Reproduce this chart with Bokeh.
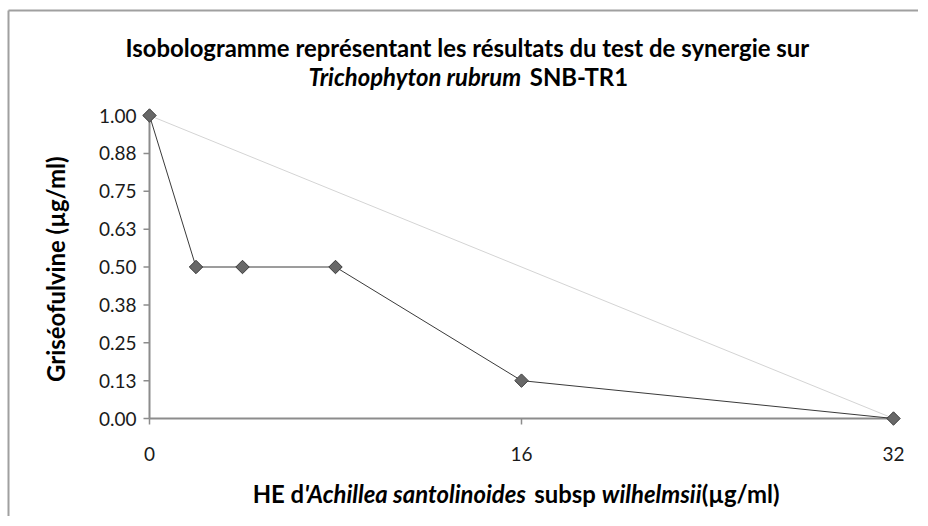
import math
import os
import struct
from bokeh.plotting import figure
from bokeh.models import Range1d
from bokeh.core.properties import value
from bokeh.embed import file_html
from bokeh.resources import INLINE

# ---------------- data ----------------
he_conc = [0, 2, 4, 8, 16, 32]                 # HE d'Achillea (µg/ml)
griseo_conc = [1.0, 0.5, 0.5, 0.5, 0.125, 0.0]  # Griséofulvine (µg/ml)
additive_x = [0, 32]
additive_y = [1.0, 0.0]
y_ticks = [0, 0.125, 0.25, 0.375, 0.5, 0.625, 0.75, 0.875, 1.0]
y_tick_labels = ["0.00", "0.13", "0.25", "0.38", "0.50", "0.63", "0.75", "0.88", "1.00"]
x_ticks = [0, 16, 32]
x_tick_labels = ["0", "16", "32"]
title_line1 = [("Isobologramme représentant les résultats du test de synergie sur", "bold")]
title_line2 = [("Trichophyton rubrum", "bold italic"), (" SNB-TR1", "bold")]
x_title = [("HE d", "bold"), ("'Achillea santolinoides", "bold italic"), (" subsp ", "bold"),
           ("wilhelmsii", "bold italic"), ("(µg/ml)", "bold")]
y_title = [("Griséofulvine (µg/ml)", "bold")]

# ---------------- geometry (pixels of the picture) ----------------
FONT = "Lato"
W, H = 918, 516
DATA_LEFT, DATA_RIGHT = 149, 893   # px of x=0 / x=32
DATA_TOP, DATA_BOTTOM = 115, 418   # px of y=1 / y=0
PXX = (DATA_RIGHT - DATA_LEFT) / (x_ticks[-1] - x_ticks[0])
PXY = (DATA_BOTTOM - DATA_TOP) / (y_ticks[-1] - y_ticks[0])
AXIS_COLOR = "#8c8c8c"
TICK_LEN = 6
TICK_SIZE = 19


def dx(px):
    return (px - DATA_LEFT) / PXX


def dy(py):
    return (DATA_BOTTOM - py) / PXY


# ---------------- font metrics (to chain mixed-style text) ----------------
class FontMetrics:
    def __init__(self, path):
        d = open(path, "rb").read()
        n = struct.unpack(">H", d[4:6])[0]
        t = {}
        for i in range(n):
            tag, _, off, ln = struct.unpack(">4sIII", d[12 + 16 * i:28 + 16 * i])
            t[tag.decode("latin1")] = off
        self.upem = struct.unpack(">H", d[t["head"] + 18:t["head"] + 20])[0]
        nhm = struct.unpack(">H", d[t["hhea"] + 34:t["hhea"] + 36])[0]
        hm = t["hmtx"]
        self.adv = [struct.unpack(">H", d[hm + 4 * i:hm + 4 * i + 2])[0] for i in range(nhm)]
        cm = t["cmap"]
        nsub = struct.unpack(">H", d[cm + 2:cm + 4])[0]
        sub = None
        for i in range(nsub):
            pid, eid, off = struct.unpack(">HHI", d[cm + 4 + 8 * i:cm + 12 + 8 * i])
            fmt = struct.unpack(">H", d[cm + off:cm + off + 2])[0]
            if pid == 3 and eid == 1 and fmt == 4:
                sub = cm + off
        segx2 = struct.unpack(">H", d[sub + 6:sub + 8])[0]
        seg = segx2 // 2
        e_off = sub + 14
        s_off = e_off + segx2 + 2
        dl_off = s_off + segx2
        ro_off = dl_off + segx2
        self.ends = struct.unpack(">%dH" % seg, d[e_off:e_off + segx2])
        self.starts = struct.unpack(">%dH" % seg, d[s_off:s_off + segx2])
        self.deltas = struct.unpack(">%dh" % seg, d[dl_off:dl_off + segx2])
        self.ros = struct.unpack(">%dH" % seg, d[ro_off:ro_off + segx2])
        self.ro_off = ro_off
        self.d = d

    def gid(self, ch):
        c = ord(ch)
        for i, e in enumerate(self.ends):
            if c <= e:
                if c < self.starts[i]:
                    return 0
                if self.ros[i] == 0:
                    return (c + self.deltas[i]) & 0xFFFF
                a = self.ro_off + 2 * i + self.ros[i] + 2 * (c - self.starts[i])
                g = struct.unpack(">H", self.d[a:a + 2])[0]
                return (g + self.deltas[i]) & 0xFFFF if g else 0
        return 0

    def em(self, text):
        tot = 0
        for ch in text:
            g = self.gid(ch)
            tot += self.adv[min(g, len(self.adv) - 1)]
        return tot / self.upem


def find_font(fname):
    for root in ("/usr/share/fonts", "/usr/local/share/fonts", os.path.expanduser("~/.fonts"),
                 os.path.expanduser("~/.local/share/fonts")):
        for dirpath, _, files in os.walk(root):
            for f in files:
                if f.lower() == fname:
                    return os.path.join(dirpath, f)
    return None


METRICS = {}
for style, fname in (("normal", "lato-regular"), ("bold", "lato-bold"), ("bold italic", "lato-bolditalic")):
    try:
        path = find_font(fname + ".ttf") or find_font(fname + ".otf")
        METRICS[style] = FontMetrics(path)
    except Exception:
        METRICS[style] = None

FALLBACK_EM = {"normal": 0.5, "bold": 0.44, "bold italic": 0.43}


def em_width(text, style):
    m = METRICS.get(style)
    if m is not None:
        try:
            return m.em(text)
        except Exception:
            pass
    return FALLBACK_EM[style] * len(text)


def clamp(v, lo, hi):
    return max(lo, min(hi, v))


# bold text size fitted to the reference title width
BOLD_SIZE = clamp(687 / em_width(title_line1[0][0], "bold"), 18, 26)

# the frame covers the whole canvas so no text is clipped
p = figure(
    width=W, height=H,
    min_border_left=0, min_border_right=0, min_border_top=0, min_border_bottom=0,
    x_range=Range1d(dx(0), dx(W)), y_range=Range1d(dy(H), dy(0)),
    x_axis_location=None, y_axis_location=None,
    output_backend="svg", toolbar_location=None, tools="",
)
p.outline_line_color = None
p.grid.visible = False
p.background_fill_color = "white"
p.border_fill_color = "white"

# chart-area border (left and top edges visible)
p.segment(x0=[dx(8), dx(8)], y0=[dy(H), dy(10)], x1=[dx(8), dx(W)], y1=[dy(10), dy(10)],
          line_color="#a0a0a0", line_width=2)

# axis lines and ticks
p.segment(x0=[x_ticks[0], x_ticks[0]], y0=[y_ticks[0], y_ticks[0]],
          x1=[x_ticks[-1], x_ticks[0]], y1=[y_ticks[0], y_ticks[-1]],
          line_color=AXIS_COLOR, line_width=2)
p.segment(x0=x_ticks, y0=[y_ticks[0]] * len(x_ticks), x1=x_ticks,
          y1=[y_ticks[0] - TICK_LEN / PXY] * len(x_ticks), line_color=AXIS_COLOR, line_width=1.5)
p.segment(x0=[x_ticks[0]] * len(y_ticks), y0=y_ticks, x1=[x_ticks[0] - TICK_LEN / PXX] * len(y_ticks),
          y1=y_ticks, line_color=AXIS_COLOR, line_width=1.5)

# tick labels
p.text(x=x_ticks, y=[dy(453)] * len(x_ticks), text=x_tick_labels,
       text_font=value(FONT), text_font_size=value("%dpx" % TICK_SIZE), text_color="#1a1a1a",
       text_align="center", text_baseline="middle")
p.text(x=[dx(136)] * len(y_ticks), y=y_ticks, text=y_tick_labels,
       text_font=value(FONT), text_font_size=value("%dpx" % TICK_SIZE), text_color="#1a1a1a",
       text_align="right", text_baseline="middle")

# additivity line
p.line(additive_x, additive_y, line_color="#d4d4d4", line_width=1)
# isobole
p.line(he_conc, griseo_conc, line_color="#3a3a3a", line_width=1)
p.scatter(he_conc, griseo_conc, marker="square", size=9.5, angle=math.pi / 4,
          fill_color="#686868", line_color="#3c3c3c", line_width=1)


def text_line(pieces, cx, cy, vertical=False):
    """Draw mixed-style pieces one after another, the whole centred on (cx, cy) px.
    Leading/trailing spaces are turned into offsets (SVG text drops them)."""
    widths = [em_width(t, s) * BOLD_SIZE for t, s in pieces]
    pos = -sum(widths) / 2
    for (t, s), w in zip(pieces, widths):
        lead = t[:len(t) - len(t.lstrip())]
        start = pos + em_width(lead, s) * BOLD_SIZE
        if vertical:
            x, y, ang = dx(cx), dy(cy - start), math.pi / 2
        else:
            x, y, ang = dx(cx + start), dy(cy), 0.0
        p.text(x=[x], y=[y], text=[t.strip()], text_font=value(FONT), text_font_style=s,
               text_font_size=value("%.1fpx" % BOLD_SIZE), text_color="#000000",
               text_align="left", text_baseline="middle", angle=ang)
        pos += w


text_line(title_line1, 468.5, 47)
text_line(title_line2, 468.5, 76)
text_line(x_title, 516, 493)
text_line(y_title, 55, 268, vertical=True)

open("out.html", "w").write(file_html(p, INLINE))
